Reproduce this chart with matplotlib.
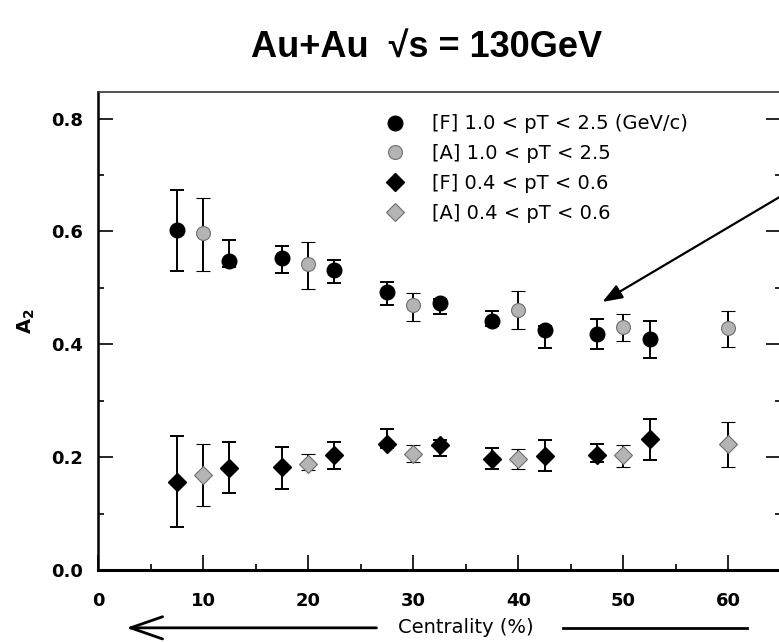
import matplotlib.pyplot as plt
from matplotlib.lines import Line2D
from matplotlib.ticker import MultipleLocator

# centrality bins (%)
cent_f = [7.5, 12.5, 17.5, 22.5, 27.5, 32.5, 37.5, 42.5, 47.5, 52.5]
cent_a = [10, 20, 30, 40, 50, 60]

# [F] 1.0 < pT < 2.5
f_hi = [0.603, 0.547, 0.553, 0.531, 0.493, 0.473, 0.442, 0.425, 0.419, 0.410]
f_hi_lo = [0.073, 0.010, 0.026, 0.023, 0.023, 0.019, 0.010, 0.031, 0.027, 0.034]
f_hi_up = [0.071, 0.038, 0.022, 0.019, 0.017, 0.008, 0.017, 0.008, 0.026, 0.031]

# [A] 1.0 < pT < 2.5
a_hi = [0.597, 0.542, 0.469, 0.461, 0.430, 0.429]
a_hi_lo = [0.067, 0.044, 0.028, 0.034, 0.024, 0.034]
a_hi_up = [0.063, 0.040, 0.022, 0.033, 0.023, 0.030]

# [F] 0.4 < pT < 0.6
f_lo = [0.156, 0.181, 0.183, 0.204, 0.224, 0.221, 0.196, 0.202, 0.204, 0.232]
f_lo_lo = [0.080, 0.044, 0.040, 0.025, 0.008, 0.019, 0.017, 0.026, 0.012, 0.037]
f_lo_up = [0.081, 0.046, 0.035, 0.023, 0.026, 0.010, 0.021, 0.028, 0.020, 0.036]

# [A] 0.4 < pT < 0.6
a_lo = [0.168, 0.187, 0.206, 0.196, 0.204, 0.224]
a_lo_lo = [0.055, 0.010, 0.014, 0.017, 0.022, 0.042]
a_lo_up = [0.056, 0.018, 0.015, 0.018, 0.017, 0.038]

labels = ["[F] 1.0 < pT < 2.5 (GeV/c)", "[A] 1.0 < pT < 2.5",
          "[F] 0.4 < pT < 0.6", "[A] 0.4 < pT < 0.6"]

black = "#000000"
grey = "#b4b4b4"
grey_edge = "#6e6e6e"

fig = plt.figure(figsize=(7.79, 6.42), dpi=100)
ax = fig.add_axes([98 / 779, 72 / 642, 683 / 779, 478 / 642])

eb = dict(ecolor="black", elinewidth=1.4, capsize=5, capthick=1.4, ls="none")
ax.errorbar(cent_f, f_hi, yerr=[f_hi_lo, f_hi_up], fmt="o", ms=10.5,
            mfc=black, mec=black, **eb)
ax.errorbar(cent_a, a_hi, yerr=[a_hi_lo, a_hi_up], fmt="o", ms=10,
            mfc=grey, mec=grey_edge, mew=0.8, **eb)
ax.errorbar(cent_f, f_lo, yerr=[f_lo_lo, f_lo_up], fmt="D", ms=9.5,
            mfc=black, mec=black, **eb)
ax.errorbar(cent_a, a_lo, yerr=[a_lo_lo, a_lo_up], fmt="D", ms=9,
            mfc=grey, mec=grey_edge, mew=0.8, **eb)

ax.set_xlim(0, 65)
ax.set_ylim(0, 0.847)

ax.xaxis.set_major_locator(MultipleLocator(10))
ax.xaxis.set_minor_locator(MultipleLocator(5))
ax.yaxis.set_major_locator(MultipleLocator(0.2))
ax.yaxis.set_minor_locator(MultipleLocator(0.1))
ax.xaxis.set_major_formatter(plt.FuncFormatter(lambda v, p: "%d" % v))
ax.yaxis.set_major_formatter(plt.FuncFormatter(lambda v, p: "%.1f" % v))

ax.tick_params(which="both", direction="in", right=True, top=False,
               labelsize=13, width=1.2)
ax.tick_params(which="major", length=11)
ax.tick_params(which="minor", length=4.5)
ax.tick_params(axis="y", pad=11)
ax.tick_params(axis="x", pad=16)
for lab in ax.get_xticklabels() + ax.get_yticklabels():
    lab.set_fontweight("bold")
    lab.set_family("DejaVu Sans")

ax.spines["left"].set_linewidth(1.8)
ax.spines["bottom"].set_linewidth(2.2)
ax.spines["top"].set_linewidth(1.2)
ax.spines["top"].set_color("#333333")
ax.spines["right"].set_visible(False)

ax.set_ylabel("A$_\\mathregular{2}$", fontsize=14, fontweight="bold")
ax.yaxis.set_label_coords(-0.09, 0.52)

handles = [
    Line2D([], [], ls="none", marker="o", ms=10.5, mfc=black, mec=black),
    Line2D([], [], ls="none", marker="o", ms=10, mfc=grey, mec=grey_edge, mew=0.8),
    Line2D([], [], ls="none", marker="D", ms=9.5, mfc=black, mec=black),
    Line2D([], [], ls="none", marker="D", ms=9, mfc=grey, mec=grey_edge, mew=0.8),
]
ax.legend(handles, labels, loc="upper left", bbox_to_anchor=(0.42, 0.953),
          frameon=False, fontsize=14, handlelength=1.0, handletextpad=1.4,
          labelspacing=0.55, borderpad=0, borderaxespad=0)

# arrow pointing at the 47.5% bin
ax.annotate("", xy=(48.0, 0.475), xytext=(67.5, 0.69),
            arrowprops=dict(arrowstyle="-|>,head_length=1.2,head_width=0.45",
                            color="black", lw=1.6, shrinkA=0, shrinkB=0),
            annotation_clip=False)

# centrality axis caption with direction arrow
trans = ax.get_xaxis_transform()
ax.annotate("", xy=(2.7, -0.121), xytext=(26.5, -0.121), xycoords=trans,
            textcoords=trans,
            arrowprops=dict(arrowstyle="->,head_length=2.3,head_width=0.8",
                            color="black", lw=2.0, shrinkA=0, shrinkB=0),
            annotation_clip=False)
ax.text(35.0, -0.121, "Centrality (%)", transform=trans, ha="center",
        va="center", fontsize=14)
ax.plot([44.3, 61.8], [-0.121, -0.121], transform=trans, color="black",
        lw=2.0, clip_on=False)

fig.text(427 / 779, 1 - 47 / 642, "Au+Au  \u221as = 130GeV", ha="center",
         va="center", fontsize=26, fontweight="bold", family="Liberation Sans")

fig.savefig("out.png", dpi=100)
